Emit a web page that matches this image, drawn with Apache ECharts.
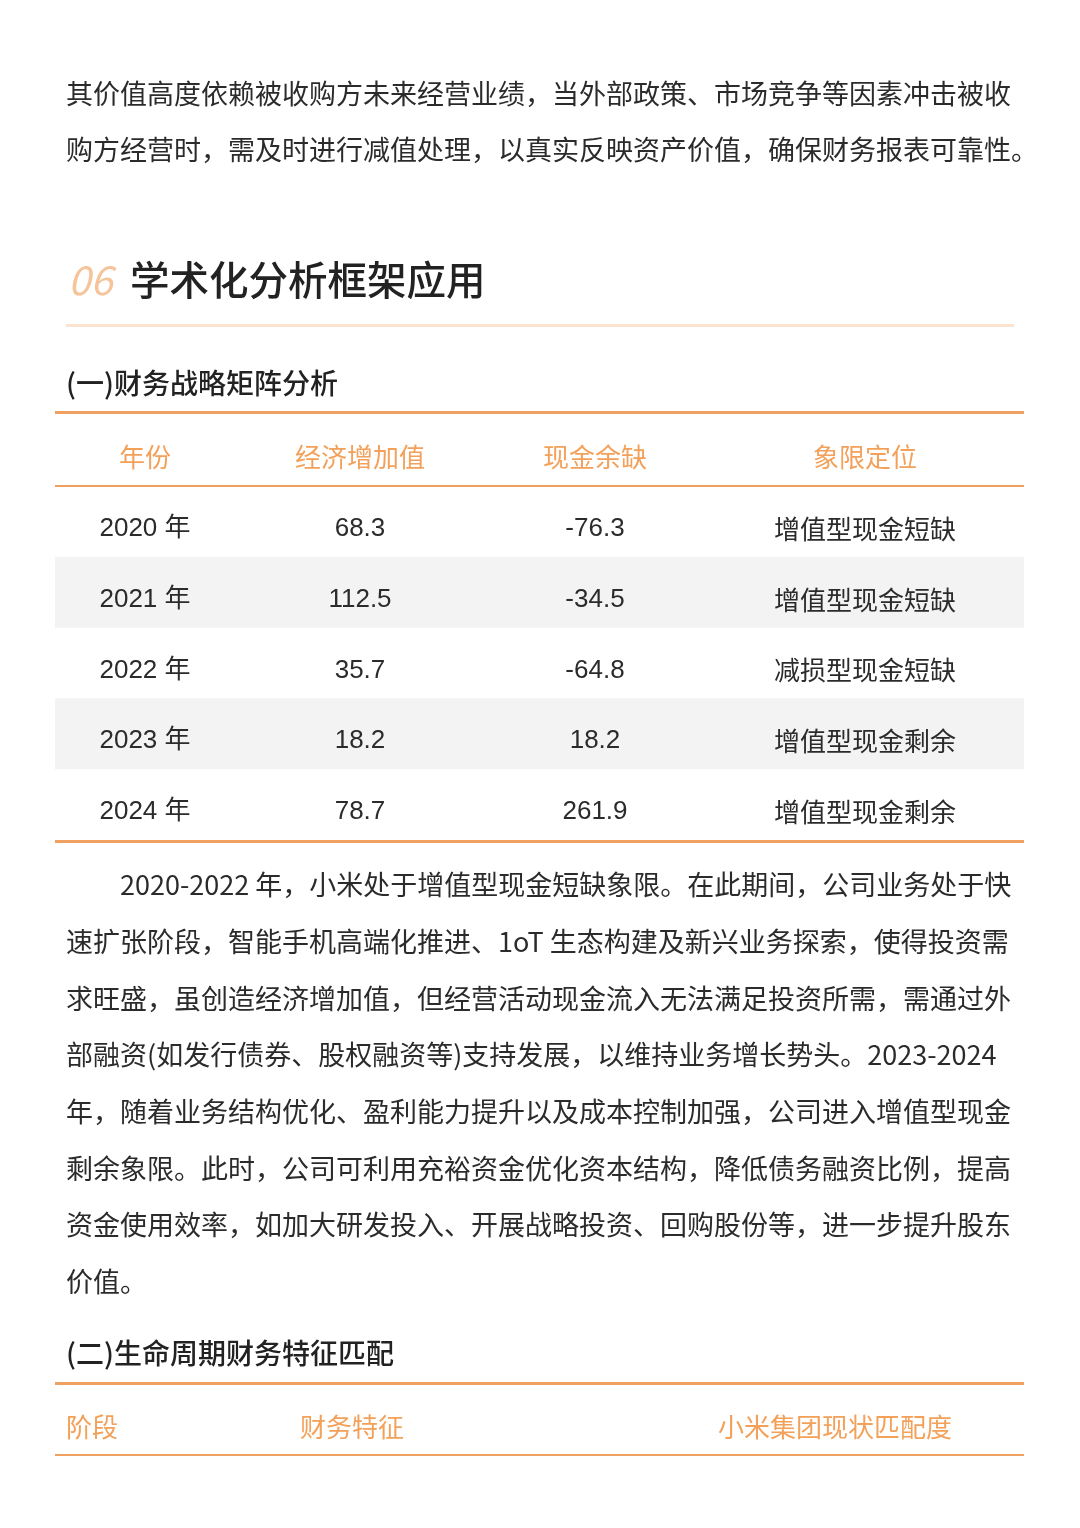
<!DOCTYPE html>
<html><head><meta charset="utf-8">
<style>html,body{margin:0;padding:0;background:#fff}#main{width:1080px;height:1528px}</style>
<script src="https://cdn.jsdelivr.net/npm/echarts@6/dist/echarts.min.js"></script>
</head><body><div id="main"></div>
<script>
var FONT = '"Noto Sans CJK SC", "Noto Sans", sans-serif'
var NUMFONT = '"Liberation Sans", "Noto Sans CJK SC", sans-serif'
var ORANGE = '#F0A060'
var HEAD = '#F3A15A'
var INK = '#2b2b2b'

var introLines = [
  '其价值高度依赖被收购方未来经营业绩，当外部政策、市场竞争等因素冲击被收',
  '购方经营时，需及时进行减值处理，以真实反映资产价值，确保财务报表可靠性。'
]
var sectionNo = '06'
var sectionTitle = '学术化分析框架应用'
var sub1 = '(一)财务战略矩阵分析'
var headers1 = ['年份', '经济增加值', '现金余缺', '象限定位']
var years = ['2020 年', '2021 年', '2022 年', '2023 年', '2024 年']
var eva = ['68.3', '112.5', '35.7', '18.2', '78.7']
var cash = ['-76.3', '-34.5', '-64.8', '18.2', '261.9']
var quadrant = ['增值型现金短缺', '增值型现金短缺', '减损型现金短缺', '增值型现金剩余', '增值型现金剩余']
var bodyLines = [
  '2020-2022 年，小米处于增值型现金短缺象限。在此期间，公司业务处于快',
  '速扩张阶段，智能手机高端化推进、1oT 生态构建及新兴业务探索，使得投资需',
  '求旺盛，虽创造经济增加值，但经营活动现金流入无法满足投资所需，需通过外',
  '部融资(如发行债券、股权融资等)支持发展，以维持业务增长势头。2023-2024',
  '年，随着业务结构优化、盈利能力提升以及成本控制加强，公司进入增值型现金',
  '剩余象限。此时，公司可利用充裕资金优化资本结构，降低债务融资比例，提高',
  '资金使用效率，如加大研发投入、开展战略投资、回购股份等，进一步提升股东',
  '价值。'
]
var sub2 = '(二)生命周期财务特征匹配'
var headers2 = ['阶段', '财务特征', '小米集团现状匹配度']

var els = []
function txt(s, x, y, size, color, align, extra, font) {
  els.push({type: 'text', style: {text: s, x: x, y: y, font: (extra || '') + ' ' + size + 'px ' + (font || FONT),
    fill: color, textAlign: align || 'left', textVerticalAlign: 'middle'}})
}
function rect(x, y, w, h, c) {
  els.push({type: 'rect', shape: {x: x, y: y, width: w, height: h}, style: {fill: c}})
}

introLines.forEach(function (l, i) { txt(l, 66, 94 + i * 56, 27, INK) })
txt(sectionNo, 68, 280, 40, '#F6C49A', 'left', 'italic')
txt(sectionTitle, 130, 280, 39.5, '#222', 'left', '500')
rect(66, 324, 948, 3, '#FBE3CF')

txt(sub1, 66, 383, 28, '#222', 'left', '500')
var cols = [145, 360, 595, 865]
rect(55, 411, 969, 3, ORANGE)
headers1.forEach(function (h, i) { txt(h, cols[i], 457, 26, HEAD, 'center') })
rect(55, 485, 969, 2, ORANGE)
years.forEach(function (y, i) {
  var cy = 529 + i * 70.75
  if (i % 2 === 1) rect(55, cy - 43, 969, 71, '#F3F3F3')
})
years.forEach(function (y, i) {
  var cy = 529 + i * 70.75
  txt(y, cols[0], cy, 26, INK, 'center', '', NUMFONT)
  txt(eva[i], cols[1], cy, 26, INK, 'center', '', NUMFONT)
  txt(cash[i], cols[2], cy, 26, INK, 'center', '', NUMFONT)
  txt(quadrant[i], cols[3], cy, 26, INK, 'center')
})
rect(55, 840, 969, 3, ORANGE)

bodyLines.forEach(function (l, i) { txt(l, i === 0 ? 120 : 66, 885 + i * 56.7, 27, INK) })

txt(sub2, 66, 1353, 28, '#222', 'left', '500')
rect(55, 1382, 969, 3, ORANGE)
txt(headers2[0], 66, 1427, 26, HEAD)
txt(headers2[1], 300, 1427, 26, HEAD)
txt(headers2[2], 718, 1427, 26, HEAD)
rect(55, 1454, 969, 2, ORANGE)

var myChart = echarts.init(document.getElementById('main'))
myChart.setOption({backgroundColor: '#fff', graphic: {elements: els}})
</script></body></html>
